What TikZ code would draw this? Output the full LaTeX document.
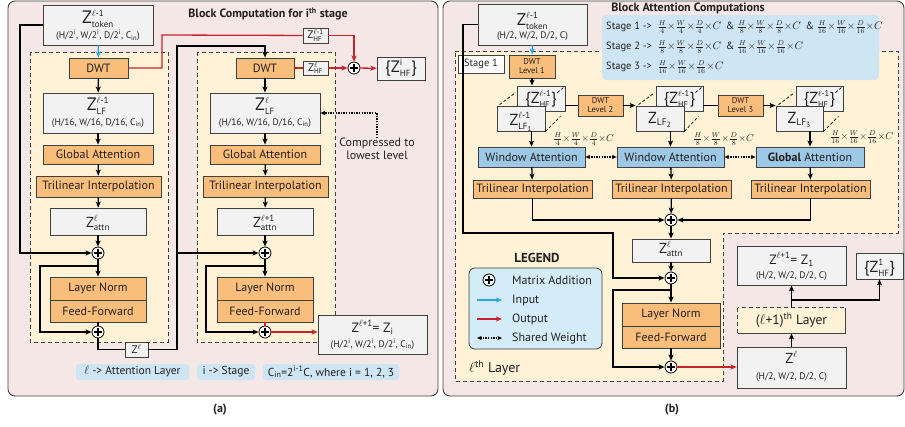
\documentclass[tikz,border=0pt]{standalone}
\usepackage{amsmath}
\usepackage{fontspec}
\setmainfont{PT Sans}
\usetikzlibrary{arrows.meta,calc}

\definecolor{pinkbg}{RGB}{246,231,231}
\definecolor{yel}{RGB}{255,242,214}
\definecolor{org}{RGB}{249,189,124}
\definecolor{gry}{RGB}{242,242,242}
\definecolor{attb}{RGB}{157,200,230}
\definecolor{lblb}{RGB}{206,229,243}
\definecolor{legb}{RGB}{212,235,248}
\definecolor{redl}{RGB}{200,35,45}
\definecolor{inb}{RGB}{41,171,226}
\definecolor{bord}{RGB}{64,64,64}
\definecolor{txt}{RGB}{35,31,32}

\newcommand{\fA}{\fontsize{12}{13}\selectfont}
\newcommand{\fD}{\fontsize{9.5}{11}\selectfont}
\newcommand{\fS}{\fontsize{8.5}{9}\selectfont}
\newcommand{\fsz}[1]{\fontsize{#1}{#1}\selectfont}
\newcommand{\Zs}[3][9]{Z$^{\text{\fsz{#1}#2}}_{\text{\fsz{#1}#3}}$}
\newcommand{\Zsup}[2][9]{Z$^{\text{\fsz{#1}#2}}$}
\newcommand{\Zsub}[2][9]{Z$_{\text{\fsz{#1}#2}}$}
\newcommand{\bx}[7]{\node[#2, minimum width={(#5-#3)*1pt}, minimum height={(#6-#4)*1pt}] (#1) at ({(#3+#5)/2},{(#4+#6)/2}) {#7};}
\newcommand{\stg}[1]{$\frac{H}{#1}{\times}\frac{W}{#1}{\times}\frac{D}{#1}{\times}C$}

\tikzset{
  box/.style={draw=bord, line width=0.8pt, inner sep=0pt, align=center, font=\fA, text=txt},
  gbox/.style={box, fill=gry},
  obox/.style={box, fill=org},
  dwtl/.style={obox, font=\fS},
  abox/.style={box, fill=attb},
  wbox/.style={box, fill=white},
  zt/.style={inner sep=0pt, text=txt, anchor=base},
  lbl/.style={fill=lblb, rounded corners=3pt, inner sep=0pt, font=\fontsize{11.5}{13}\selectfont, text=txt},
  dashbox/.style={draw=bord, line width=0.8pt, dash pattern=on 4pt off 3pt},
  conn/.style={line width=1.3pt, draw=black},
  arr/.style={conn, -{Stealth[length=6pt,width=5pt,inset=1.5pt]}},
  redc/.style={line width=1.3pt, draw=redl},
  redarr/.style={redc, -{Stealth[length=6pt,width=5pt,inset=1.5pt]}},
  inarr/.style={line width=1.3pt, draw=inb, -{Stealth[length=6pt,width=5pt,inset=1.5pt]}},
  dotarr/.style={line width=1.2pt, dash pattern=on 1.3pt off 1.3pt, -{Stealth[length=5pt,width=4.5pt,inset=1pt]}},
  shared/.style={line width=1.2pt, dash pattern=on 1.3pt off 1.3pt, {Stealth[length=4.5pt,width=4pt,inset=1pt]}-{Stealth[length=4.5pt,width=4pt,inset=1pt]}},
  persp/.style={line width=0.7pt, dash pattern=on 3pt off 2pt},
  plusc/.style={circle, draw=black, fill=white, line width=0.8pt, minimum size=12pt, inner sep=0pt,
    path picture={\draw[line width=1.5pt] ([xshift=-3.6pt]path picture bounding box.center) -- ([xshift=3.6pt]path picture bounding box.center);
      \draw[line width=1.5pt] ([yshift=-3.6pt]path picture bounding box.center) -- ([yshift=3.6pt]path picture bounding box.center);}},
}

\begin{document}
\begin{tikzpicture}[x=1pt,y=-1pt]
\useasboundingbox (0,0) rectangle (905,426);

% ================= panel (a) =================
\draw[rounded corners=7pt, fill=pinkbg, draw=bord, line width=0.9pt] (8,1) rectangle (438,396);
\node[font=\bfseries\fA, text=txt] (ta) at (268,14) {Block Computation for i\textsuperscript{th} stage};
\draw[dashbox, fill=yel] (30,52) rectangle (168,342);
\draw[dashbox, fill=yel] (197,52) rectangle (335,342);

% column 1
\bx{tok}{gbox}{43}{5}{153}{45}{}
\node[zt, font=\fsz{18}] (tokz) at (98,23) {\Zs{$\ell$-1}{token}};
\node[zt, font=\fD] (tokd) at (98,38.5) {(H/2\textsuperscript{i}, W/2\textsuperscript{i}, D/2\textsuperscript{i}, C\textsubscript{in})};
\bx{dwta}{obox}{69}{58}{128}{78}{DWT}
\bx{lfa}{gbox}{43}{93}{153}{133}{}
\node[zt, font=\fsz{18}] (lfaz) at (98,110) {\Zs{$\ell$-1}{LF}};
\node[zt, font=\fD] (lfad) at (98,125) {(H/16, W/16, D/16, C\textsubscript{in})};
\bx{gaa}{obox}{43}{145}{153}{164}{Global Attention}
\bx{tia}{obox}{36}{176}{161}{197}{Trilinear Interpolation}
\bx{ata}{gbox}{50}{208}{146}{235}{}
\node[zt, font=\fsz{14.5}] (ataz) at (98,227) {\Zs{$\ell$}{attn}};
\node[plusc] (pa1) at (98,253) {};
\bx{lna}{obox}{50}{277}{146}{300}{Layer Norm}
\bx{ffa}{obox}{50}{300}{146}{322}{Feed-Forward}
\node[plusc] (pa2) at (98,332) {};
\bx{zsm}{gbox}{125}{342}{148}{357}{{\fsz{11}\Zsup[7.5]{$\ell$}}}

% column 2
\bx{dwtb}{obox}{236}{58}{294}{78}{DWT}
\bx{hfs}{gbox}{303}{61}{328}{75}{{\fsz{11}\Zs[7]{$\ell$}{HF}}}
\bx{hfs0}{gbox}{303}{28}{328}{43}{{\fsz{11}\Zs[7]{$\ell$-1}{HF}}}
\node[plusc] (phf) at (354,68) {};
\bx{zhfi}{gbox}{377}{57}{425}{80}{}
\node[zt, font=\fsz{16.5}] (zhfit) at (401,72) {\{\Zs[9]{i}{HF}\}};
\bx{lfb}{gbox}{210}{93}{320}{133}{}
\node[zt, font=\fsz{18}] (lfbz) at (265,110) {\Zs{$\ell$}{LF}};
\node[zt, font=\fD] (lfbd) at (265,125) {(H/16, W/16, D/16, C\textsubscript{in})};
\bx{gab}{obox}{210}{145}{320}{164}{Global Attention}
\bx{tib}{obox}{203}{176}{328}{197}{Trilinear Interpolation}
\bx{atb}{gbox}{217}{208}{313}{235}{}
\node[zt, font=\fsz{14.5}] (atbz) at (265,227) {\Zs{$\ell$+1}{attn}};
\node[plusc] (pb1) at (265,253) {};
\bx{lnb}{obox}{217}{277}{313}{300}{Layer Norm}
\bx{ffb}{obox}{217}{300}{313}{322}{Feed-Forward}
\node[plusc] (pb2) at (265,332) {};
\bx{zi}{gbox}{318}{315}{427}{354}{}
\node[zt, font=\fsz{13.5}] (ziz) at (372.5,332) {\Zsup{$\ell$+1}= \Zsub{i}};
\node[zt, font=\fD] (zid) at (372.5,347) {(H/2\textsuperscript{i}, W/2\textsuperscript{i}, D/2\textsuperscript{i}, C\textsubscript{in})};
\node[font=\fA, text=txt, align=center, inner sep=0pt] (cmp) at (377,149) {Compressed to\\lowest level};

% labels
\bx{l1}{lbl}{76}{364}{189}{380}{$\ell$ -> Attention Layer}
\bx{l2}{lbl}{197}{364}{255}{380}{i -> Stage}
\bx{l3}{lbl}{263}{364}{399}{380}{C\textsubscript{in}=2\textsuperscript{i-1}C, where i = 1, 2, 3}
\node[font=\bfseries\fA, text=txt] (capa) at (220,410) {(a)};

% connectors (a)
\draw[inarr] (tok) -- (dwta);
\draw[arr] (dwta) -- (lfa);
\draw[arr] (lfa) -- (gaa);
\draw[arr] (gaa) -- (tia);
\draw[arr] (tia) -- (ata);
\draw[arr] (ata) -- (pa1);
\draw[arr] (tok.west) -| (20,253) -- (pa1);
\draw[arr] (pa1) -- (lna);
\draw[arr] (98,266) -| (40,332) -- (pa2);
\draw[conn] (ffa) -- (pa2);
\draw[conn] (pa2) |- (zsm);
\draw[arr] (zsm) -| (177,46) -| (dwtb);
\draw[arr] (177,253) -- (pb1);
\draw[arr] (dwtb) -- (lfb);
\draw[arr] (lfb) -- (gab);
\draw[arr] (gab) -- (tib);
\draw[arr] (tib) -- (atb);
\draw[arr] (atb) -- (pb1);
\draw[arr] (pb1) -- (lnb);
\draw[arr] (265,266) -| (206,332) -- (pb2);
\draw[redc] (ffb) -- (pb2);
\draw[redarr] (pb2) -- (pb2 -| zi.west);
\draw[redc] (dwta) -| (162,35) -- (hfs0);
\draw[redarr] (hfs0) -| (phf);
\draw[redc] (dwtb) -- (hfs);
\draw[redarr] (hfs) -- (phf);
\draw[redarr] (phf) -- (zhfi);
\draw[dotarr] (cmp.north) |- (lfb);

% ================= panel (b) =================
\draw[rounded corners=7pt, fill=pinkbg, draw=bord, line width=0.9pt] (443,1) rectangle (904,396);
\draw[dashbox, fill=yel] (455,51) -- (898,51) -- (898,233) -- (723,233) -- (723,381) -- (455,381) -- cycle;
\node[font=\bfseries\fA, text=txt] (tb) at (688,8) {Block Attention Computations};
\node[fill=lblb, rounded corners=4pt, minimum width=277pt, minimum height=65pt, inner sep=0pt] (stg) at (740.5,47.5) {};
\node[anchor=west, font=\fsz{10.5}, text=txt, inner sep=0pt] (s1) at (606,27) {Stage 1 -> \ \stg{4} \,\& \stg{8} \,\& \stg{16}};
\node[anchor=west, font=\fsz{10.5}, text=txt, inner sep=0pt] (s2) at (606,47) {Stage 2 -> \ \stg{8} \,\& \stg{16}};
\node[anchor=west, font=\fsz{10.5}, text=txt, inner sep=0pt] (s3) at (606,67) {Stage 3 -> \ \stg{16}};

\bx{tokb}{gbox}{478}{4}{587}{45}{}
\node[zt, font=\fsz{17}] (tokbz) at (532.5,25) {\Zs{$\ell$-1}{token}};
\node[zt, font=\fD] (tokbd) at (532.5,38.5) {(H/2, W/2, D/2, C)};
\bx{st1}{wbox}{458}{55}{504}{73}{{\fsz{10.5}Stage 1}}
\bx{dw1}{dwtl}{509}{55}{555}{78}{DWT\\Level 1}
\bx{dw2}{dwtl}{578}{95}{623}{116}{DWT\\Level 2}
\bx{dw3}{dwtl}{718}{95}{763}{116}{DWT\\Level 3}

\bx{hf1}{gbox}{517}{86}{565}{111}{}
\bx{hf2}{gbox}{656}{86}{703}{111}{}
\bx{hf3}{gbox}{796}{86}{843}{111}{}
\node[zt, font=\fsz{16}] (hf1t) at (541,103) {\{\Zs[8.5]{$\ell$-1}{HF}\}};
\node[zt, font=\fsz{16}] (hf2t) at (679.5,103) {\{\Zs[8.5]{$\ell$-1}{HF}\}};
\node[zt, font=\fsz{16}] (hf3t) at (819.5,103) {\{\Zs[8.5]{$\ell$-1}{HF}\}};
\bx{lf1}{gbox}{497}{106}{545}{131}{}
\bx{lf2}{gbox}{636}{106}{684}{131}{}
\bx{lf3}{gbox}{776}{106}{823}{131}{}
\node[zt, font=\fsz{16}] (lf1t) at (521,125) {\Zs[9]{$\ell$-1}{LF$_{\text{\fsz{7}1}}$}};
\node[zt, font=\fsz{16}] (lf2t) at (660,123) {\Zsub[9.5]{LF$_{\text{\fsz{7.5}2}}$}};
\node[zt, font=\fsz{16}] (lf3t) at (799.5,123) {\Zsub[9.5]{LF$_{\text{\fsz{7.5}3}}$}};

\foreach \n in {1,2,3}{
  \draw[persp] ($(lf\n.north west)+(3,-1)$) -- ($(hf\n.north west)+(-1,7)$);
  \draw[persp] (lf\n.south east) -- ($(hf\n.south east)+(-5,5)$);
  \draw[persp] ($(hf\n.north east)+(-8,7)$) -- ($(hf\n.north east)+(-2,2)$);
}

\node[anchor=west, inner sep=0pt, text=txt, font=\fsz{10}] (d1) at (553,139) {\stg{4}};
\node[anchor=west, inner sep=0pt, text=txt, font=\fsz{10}] (d2) at (693,139) {\stg{8}};
\node[anchor=west, inner sep=0pt, text=txt, font=\fsz{10}] (d3) at (830,137) {\stg{16}};

\bx{att1}{abox}{478}{147}{585}{167}{Window Attention}
\bx{att2}{abox}{617}{147}{724}{167}{Window Attention}
\bx{att3}{abox}{756}{147}{864}{167}{\textbf{Global} Attention}
\bx{tri1}{obox}{473}{180}{592}{198}{Trilinear Interpolation}
\bx{tri2}{obox}{612}{180}{731}{198}{Trilinear Interpolation}
\bx{tri3}{obox}{751}{180}{870}{198}{Trilinear Interpolation}

\node[plusc] (pc1) at (671,220) {};
\bx{attB}{gbox}{632}{239}{710}{262}{}
\node[zt, font=\fsz{14.5}] (attBz) at (671,253) {\Zs{$\ell$}{attn}};
\node[plusc] (pc2) at (671,278) {};
\bx{lnB}{obox}{622}{303}{720}{326}{Layer Norm}
\bx{ffB}{obox}{622}{326}{720}{348}{Feed-Forward}
\node[plusc] (pc3) at (671,367) {};

\bx{zlB}{gbox}{737}{347}{846}{388}{}
\node[zt, font=\fsz{14.5}] (zlBz) at (791.5,363) {\Zsup{$\ell$}};
\node[zt, font=\fD] (zlBd) at (791.5,379) {(H/2, W/2, D/2, C)};
\bx{layB}{box}{738}{308}{845}{333}{}
\draw[dashbox, fill=yel] (layB.north west) rectangle (layB.south east);
\node[font=\fsz{13.5}, text=txt, inner sep=0pt] (layT) at (layB.center) {($\ell$+1)\textsuperscript{th} Layer};
\bx{z1B}{gbox}{737}{246}{846}{285}{}
\node[zt, font=\fsz{13.5}] (z1Bz) at (791.5,264) {\Zsup{$\ell$+1}= \Zsub{1}};
\node[zt, font=\fD] (z1Bd) at (791.5,278) {(H/2, W/2, D/2, C)};
\bx{zhf1}{gbox}{856}{253}{903}{279}{}
\node[zt, font=\fsz{16}] (zhf1t) at (879.5,272) {\{\Zs[9]{1}{HF}\}};

% legend
\node[font=\bfseries\fsz{13}, text=txt] (lgt) at (537,258) {LEGEND};
\node[fill=legb, draw=bord, line width=0.8pt, rounded corners=6pt, minimum width=133pt, minimum height=81pt, inner sep=0pt] (leg) at (535.5,308.5) {};
\node[plusc] (lp) at (489,280) {};
\coordinate (li1) at (477,300); \coordinate (li2) at (502,300);
\coordinate (lo1) at (477,319); \coordinate (lo2) at (502,319);
\coordinate (ls1) at (477,338); \coordinate (ls2) at (502,338);
\draw[inarr] (li1) -- (li2);
\draw[redarr] (lo1) -- (lo2);
\draw[shared] (ls1) -- (ls2);
\node[anchor=west, font=\fA, text=txt, inner sep=0pt] (lt1) at (512,280) {Matrix Addition};
\node[anchor=west, font=\fA, text=txt, inner sep=0pt] (lt2) at (512,300) {Input};
\node[anchor=west, font=\fA, text=txt, inner sep=0pt] (lt3) at (512,319) {Output};
\node[anchor=west, font=\fA, text=txt, inner sep=0pt] (lt4) at (512,338) {Shared Weight};
\node[anchor=west, font=\fsz{14}, text=txt, inner sep=0pt] (lth) at (469,368) {$\ell$\textsuperscript{th} Layer};
\node[font=\bfseries\fA, text=txt] (capb) at (672,410) {(b)};

% connectors (b)
\draw[inarr] (tokb) -- (dw1);
\draw[arr] (dw1) -- (dw1 |- hf1.north);
\draw[conn] (hf1.east |- dw2.west) -- (dw2.west);
\draw[arr] (dw2.east) -- (dw2.east -| lf2.west);
\draw[conn] (hf2.east |- dw3.west) -- (dw3.west);
\draw[arr] (dw3.east) -- (dw3.east -| lf3.west);
\draw[arr] (att1.north |- lf1.south) -- (att1.north);
\draw[arr] (att2.north |- lf2.south) -- (att2.north);
\draw[arr] (att3.north |- lf3.south) -- (att3.north);
\draw[shared] (att1.east) -- (att2.west);
\draw[shared] (att2.east) -- (att3.west);
\draw[arr] (att1) -- (tri1);
\draw[arr] (att2) -- (tri2);
\draw[arr] (att3) -- (tri3);
\draw[arr] (tri1) |- (pc1);
\draw[arr] (tri2) -- (pc1);
\draw[arr] (tri3) |- (pc1);
\draw[arr] (pc1) -- (attB);
\draw[arr] (attB) -- (pc2);
\draw[arr] (tokb.west) -| (463,233) -| (613,278) -- (pc2);
\draw[arr] (pc2) -- (lnB);
\draw[arr] (671,290) -| (613,367) -- (pc3);
\draw[arr] (ffB) -- (pc3);
\draw[redarr] (pc3) -- (pc3 -| zlB.west);
\draw[arr] (zlB) -- (layB);
\draw[arr] (layB) -- (z1B);
\draw[arr] (792,300) -| (zhf1);
\end{tikzpicture}
\end{document}
